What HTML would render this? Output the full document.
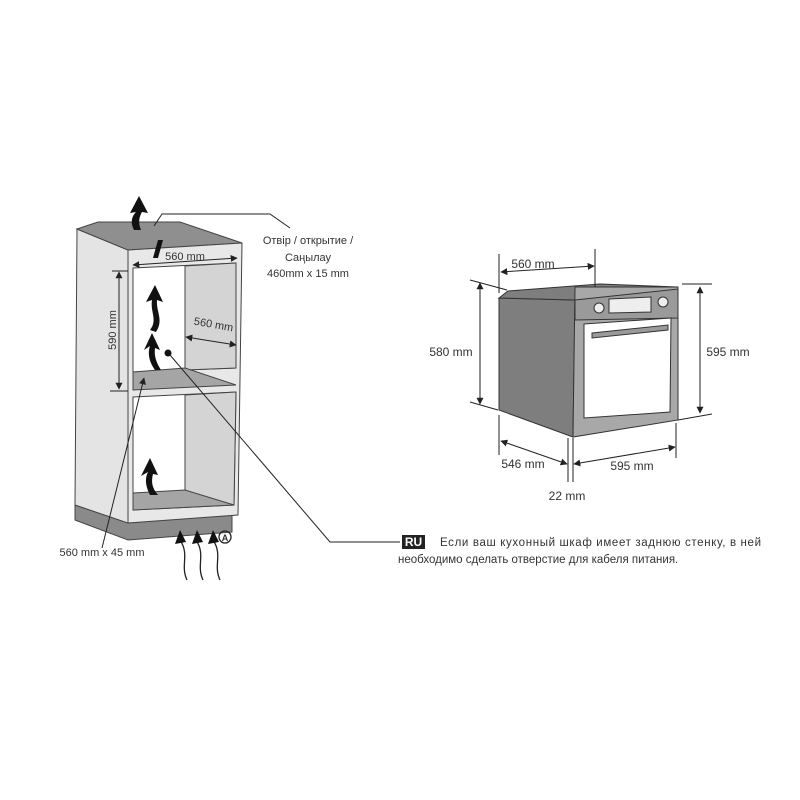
<!DOCTYPE html>
<html><head><meta charset="utf-8"><style>
html,body{margin:0;padding:0;background:#fff;width:800px;height:800px;overflow:hidden}
svg{display:block}
text{font-family:"Liberation Sans",sans-serif;fill:#333}
</style></head><body>
<svg width="800" height="800" viewBox="0 0 800 800" xmlns="http://www.w3.org/2000/svg">
<defs>
<marker id="a" viewBox="0 0 10 10" refX="9" refY="5" markerWidth="7" markerHeight="7" orient="auto-start-reverse"><path d="M0,0L10,5L0,10z" fill="#222"/></marker>
</defs>
<g stroke="#444" stroke-width="1">
<polygon points="75,505 128,523 232,515 232,532 128,540 75,520" fill="#8a8a8a"/>
<polygon points="77,229 128,250 128,523 75,505" fill="#e4e4e4"/>
<polygon points="77,229 98,222 180,222 242,243 128,250" fill="#8f8f8f"/>
<polygon points="128,250 242,243 238,515 128,523" fill="#e8e8e8"/>
<polygon points="133,268 236,263 236,368 133,372" fill="#fff"/>
<polygon points="185,266 236,263 236,368 185,370" fill="#d4d4d4"/>
<polygon points="133,372 185,368 236,385 133,390" fill="#a5a5a5"/>
<polygon points="133,397 236,392 234,505 133,510" fill="#fff"/>
<polygon points="185,395 236,392 234,505 185,493" fill="#d4d4d4"/>
<polygon points="133,493 185,490 234,505 133,510" fill="#a5a5a5"/>
</g>
<g fill="#111" stroke="none">
<path d="M134,230 C130,222 132,216 136,212 L130,213 L139,196 L148,213 L142,212 C139,217 138,223 141,230z"/>
<path d="M158,240 L153,258 L158,258 L163,240z"/>
<path d="M150,330 C158,320 150,312 152,300 L146,302 L155,285 L163,302 L157,300 C156,312 164,320 156,332z"/>
<path d="M155,370 C148,360 148,352 150,346 L144,350 L152,333 L160,350 L155,348 C154,356 156,362 161,370z"/>
<path d="M150,495 C145,485 145,478 148,472 L141,476 L150,458 L158,475 L153,474 C151,482 152,488 158,495z"/>
<circle cx="168" cy="353" r="3.5"/>
</g>
<g stroke="#222" stroke-width="1" fill="none">
<polyline points="154,226 162,214 270,214 290,228"/>
<polyline points="170,355 330,542 400,542"/>
<line x1="102" y1="548" x2="144" y2="378" marker-end="url(#a)"/>
<line x1="133" y1="265" x2="237" y2="258" marker-start="url(#a)" marker-end="url(#a)"/>
<line x1="186" y1="337" x2="236" y2="345" marker-start="url(#a)" marker-end="url(#a)"/>
<line x1="119" y1="272" x2="119" y2="389" marker-start="url(#a)" marker-end="url(#a)"/>
<line x1="112" y1="271" x2="128" y2="271"/><line x1="110" y1="391" x2="128" y2="391"/>
<path d="M187,580 C180,565 190,555 180,540 M203,580 C196,565 206,555 196,540 M220,580 C213,565 223,555 213,540" stroke-width="1.3"/>
</g>
<g fill="#111"><path d="M175,544 L180,530 L186,542z M192,544 L197,530 L203,542z M208,544 L213,530 L219,542z"/></g>
<circle cx="225" cy="537" r="6" fill="none" stroke="#222" stroke-width="1.3"/>
<text x="225" y="541" font-size="9" text-anchor="middle" font-weight="bold">A</text>
<text x="185" y="260" font-size="11" text-anchor="middle">560 mm</text>
<text x="213" y="328" font-size="11" text-anchor="middle" transform="rotate(10 213 328)">560 mm</text>
<text x="116" y="330" font-size="11" text-anchor="middle" transform="rotate(-90 116 330)">590 mm</text>
<text x="102" y="556" font-size="11" text-anchor="middle">560 mm x 45 mm</text>
<text x="308" y="244" font-size="11" text-anchor="middle">Отвір / открытие /</text>
<text x="308" y="261" font-size="11" text-anchor="middle">Саңылау</text>
<text x="308" y="277" font-size="11" text-anchor="middle">460mm x 15 mm</text>
<g stroke="#333" stroke-width="1">
<polygon points="499,298 575,300 573,437 499,410" fill="#7e7e7e"/>
<polygon points="508,291 600,284 678,287 575,300 499,298" fill="#7e7e7e"/>
<polygon points="575,287 678,287 678,420 573,437" fill="#a8a8a8"/>
<polygon points="575,300 678,289 678,318 575,320" fill="#9a9a9a"/>
<polygon points="609,299 651,297 651,312 609,313" fill="#eee"/>
<circle cx="599" cy="308" r="5" fill="#eee"/><circle cx="663" cy="302" r="5" fill="#eee"/>
<polygon points="584,324 671,318 670,412 584,418" fill="#fff"/>
<polygon points="592,333 668,325 668,330 592,338" fill="#9a9a9a"/>
</g>
<g stroke="#222" stroke-width="1" fill="none">
<line x1="499" y1="254" x2="499" y2="293"/><line x1="595" y1="249" x2="595" y2="287"/>
<line x1="501" y1="272" x2="594" y2="266" marker-start="url(#a)" marker-end="url(#a)"/>
<line x1="470" y1="280" x2="507" y2="290"/><line x1="470" y1="402" x2="498" y2="410"/>
<line x1="480" y1="283" x2="480" y2="404" marker-start="url(#a)" marker-end="url(#a)"/>
<line x1="682" y1="284" x2="712" y2="284"/><line x1="678" y1="420" x2="712" y2="414"/>
<line x1="700" y1="287" x2="700" y2="413" marker-start="url(#a)" marker-end="url(#a)"/>
<line x1="499" y1="415" x2="499" y2="455"/><line x1="568" y1="438" x2="568" y2="482"/><line x1="573" y1="438" x2="573" y2="482"/><line x1="676" y1="423" x2="676" y2="458"/>
<line x1="501" y1="441" x2="567" y2="464" marker-start="url(#a)" marker-end="url(#a)"/>
<line x1="574" y1="464" x2="675" y2="447" marker-start="url(#a)" marker-end="url(#a)"/>
</g>
<text x="533" y="268" font-size="12" text-anchor="middle">560 mm</text>
<text x="451" y="356" font-size="12" text-anchor="middle">580 mm</text>
<text x="728" y="356" font-size="12" text-anchor="middle">595 mm</text>
<text x="523" y="468" font-size="12" text-anchor="middle">546 mm</text>
<text x="632" y="470" font-size="12" text-anchor="middle">595 mm</text>
<text x="567" y="500" font-size="12" text-anchor="middle">22 mm</text>
<rect x="402" y="535" width="23" height="14" fill="#222"/>
<text x="413.5" y="546" font-size="12" font-weight="bold" text-anchor="middle" style="fill:#fff">RU</text>
<text x="440" y="546" font-size="11.5" textLength="321" lengthAdjust="spacing">Если ваш кухонный шкаф имеет заднюю стенку, в ней</text>
<text x="398" y="563" font-size="11.5">необходимо сделать отверстие для кабеля питания.</text>
</svg>
</body></html>
